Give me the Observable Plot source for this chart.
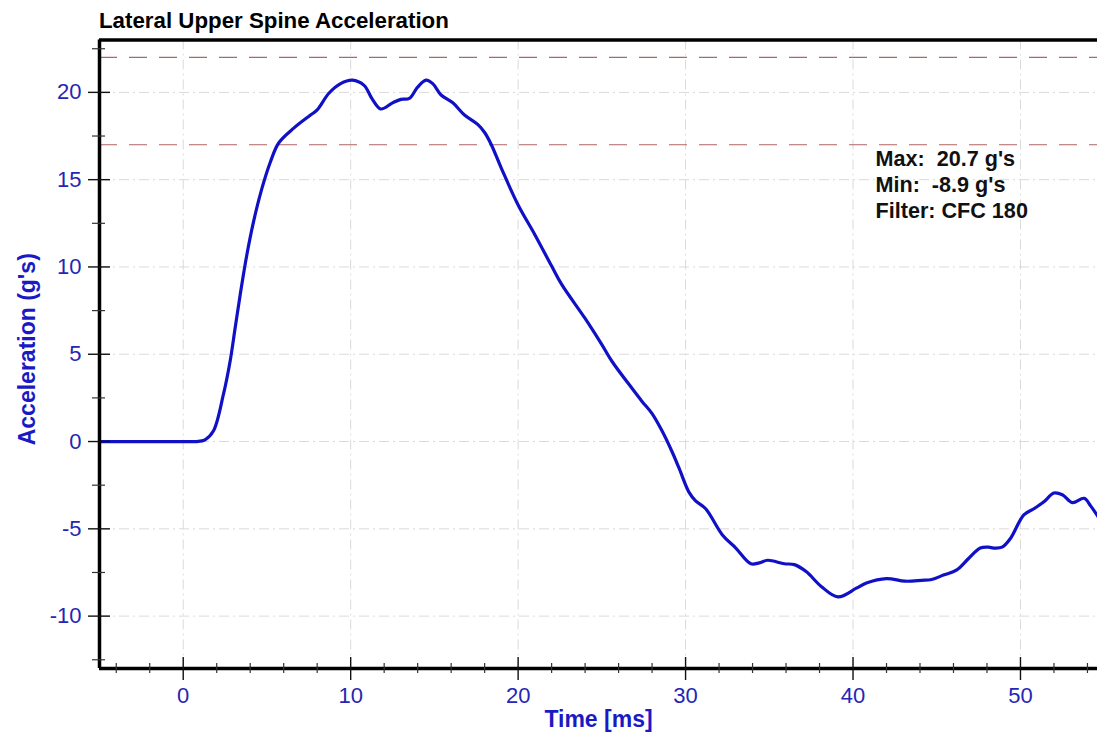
<!DOCTYPE html>
<html><head><meta charset="utf-8">
<script src="https://cdn.jsdelivr.net/npm/d3@7"></script>
<script src="https://cdn.jsdelivr.net/npm/@observablehq/plot@0.6"></script>
<style>
body{margin:0;background:#fff;font-family:"Liberation Sans",Arial,sans-serif;}
#title{height:32px;box-sizing:border-box;padding:6px 0 0 99px;line-height:29px;font-weight:bold;font-size:22.3px;color:#000;white-space:nowrap}
#chart svg{display:block}
</style></head><body>
<div id="title"></div>
<div id="chart"></div>
<script>
const title = "Lateral Upper Spine Acceleration";
const xLabel = "Time [ms]";
const yLabel = "Acceleration (g's)";
const statsLines = ["Max:\u00a0 20.7 g's", "Min:\u00a0 -8.9 g's", "Filter: CFC 180"];

const timeMs = [-5, -2, 0, 0.8, 1.3, 1.8, 2.4, 2.8, 3.1, 3.4, 3.8, 4.2, 4.7, 5.2, 5.7, 6.6, 7.6, 8.0, 8.7, 9.4, 10.1, 10.8, 11.3, 11.8, 12.5, 13.0, 13.5, 14.0, 14.5, 14.9, 15.4, 16.1, 16.8, 17.6, 18.0, 18.4, 19.0, 20.0, 21.0, 22.0, 22.6, 24.0, 25.0, 25.6, 26.8, 27.4, 28.0, 28.6, 29.2, 29.6, 30.2, 30.6, 31.2, 32.2, 33.0, 33.9, 34.4, 34.9, 35.9, 36.5, 37.2, 38.1, 39.1, 40.2, 40.8, 42.0, 43.1, 44.1, 44.7, 45.4, 46.2, 46.9, 47.6, 48.1, 48.4, 48.9, 49.4, 50.2, 50.8, 51.4, 52.0, 52.5, 53.1, 53.8, 54.2, 54.7];
const accelG = [0, 0, 0, 0, 0.1, 0.6, 2.7, 4.6, 6.5, 8.4, 10.7, 12.6, 14.5, 16.0, 17.1, 17.95, 18.7, 19.0, 19.95, 20.5, 20.7, 20.4, 19.6, 19.05, 19.4, 19.6, 19.65, 20.3, 20.7, 20.5, 19.85, 19.4, 18.7, 18.15, 17.7, 17.0, 15.65, 13.55, 11.85, 10.05, 9.0, 7.05, 5.55, 4.6, 3.05, 2.3, 1.6, 0.6, -0.6, -1.5, -2.9, -3.4, -3.85, -5.35, -6.1, -7.0, -6.95, -6.8, -7.0, -7.05, -7.45, -8.3, -8.9, -8.4, -8.1, -7.85, -8.0, -7.95, -7.9, -7.65, -7.35, -6.7, -6.1, -6.05, -6.1, -6.05, -5.55, -4.2, -3.85, -3.45, -2.95, -3.05, -3.5, -3.25, -3.7, -4.4];

const xDomain = [-5, 54.6];
const yDomain = [-13, 23];
const xMajor = [0, 10, 20, 30, 40, 50];
const xMinor = [-4, -2, 2, 4, 6, 8, 12, 14, 16, 18, 22, 24, 26, 28, 32, 34, 36, 38, 42, 44, 46, 48, 52, 54];
const yMajor = [-10, -5, 0, 5, 10, 15, 20];
const yMinor = [-12.5, -7.5, -2.5, 2.5, 7.5, 12.5, 17.5, 22.5];
const limitLines = [22, 17];

document.getElementById("title").textContent = title;

const data = timeMs.map((t, i) => ({t, a: accelG[i]}));
const tickBlue = "#2626b4";
const labelBlue = "#1a1ac4";
const plainFormat = d => String(d);
const gridStyle = {stroke: "#dadada", strokeOpacity: 1, strokeWidth: 1, strokeDasharray: "10,4,2,4"};

const chart = Plot.plot({
  width: 1097, height: 706,
  marginTop: 7.5, marginBottom: 70, marginLeft: 99, marginRight: 0,
  x: {domain: xDomain},
  y: {domain: yDomain},
  style: {fontFamily: '"Liberation Sans", Arial, sans-serif', background: "#fff", overflow: "visible"},
  marks: [
    Plot.gridX(xMajor, gridStyle),
    Plot.gridY(yMajor, gridStyle),
    Plot.ruleY(limitLines, {stroke: "#b06464", strokeWidth: 1.2, strokeDasharray: "18,12"}),
    Plot.line(data, {x: "t", y: "a", stroke: "#1010c6", strokeWidth: 3.2, curve: "catmull-rom"}),
    Plot.ruleX([xDomain[0]], {stroke: "#000", strokeWidth: 3.5}),
    Plot.ruleY(yDomain, {stroke: "#000", strokeWidth: 3.5}),
    Plot.axisY(yMajor, {tickSize: 22, dx: 11, fill: "none", stroke: "#111", strokeWidth: 1.4, label: null}),
    Plot.axisY(yMinor, {tickSize: 13, dx: 6, fill: "none", stroke: "#333", strokeWidth: 1.2, label: null}),
    Plot.axisY(yMajor, {tickSize: 0, tickPadding: 18, fill: tickBlue, fontSize: 22, tickFormat: plainFormat, label: null}),
    Plot.axisX(xMajor, {tickSize: 23, dy: -11, fill: "none", stroke: "#111", strokeWidth: 1.4, label: null}),
    Plot.axisX(xMinor, {tickSize: 10, dy: -5, fill: "none", stroke: "#333", strokeWidth: 1.2, label: null}),
    Plot.axisX(xMajor, {tickSize: 0, tickPadding: 19, fill: tickBlue, fontSize: 22, tickFormat: plainFormat, label: null}),
    Plot.text([xLabel], {text: d => d, frameAnchor: "bottom", dy: 51, lineAnchor: "middle", fill: labelBlue, fontWeight: "bold", fontSize: 23}),
    Plot.text([yLabel], {text: d => d, frameAnchor: "left", textAnchor: "middle", dx: -72, dy: -5, rotate: -90, fill: labelBlue, fontWeight: "bold", fontSize: 23}),
    Plot.text([statsLines.join("\n")], {text: d => d, frameAnchor: "top-right", dx: -222, dy: 108, textAnchor: "start", lineAnchor: "top", lineHeight: 1.2, fill: "#111", fontWeight: "bold", fontSize: 21.6})
  ]
});
document.getElementById("chart").appendChild(chart);
</script>
</body></html>
